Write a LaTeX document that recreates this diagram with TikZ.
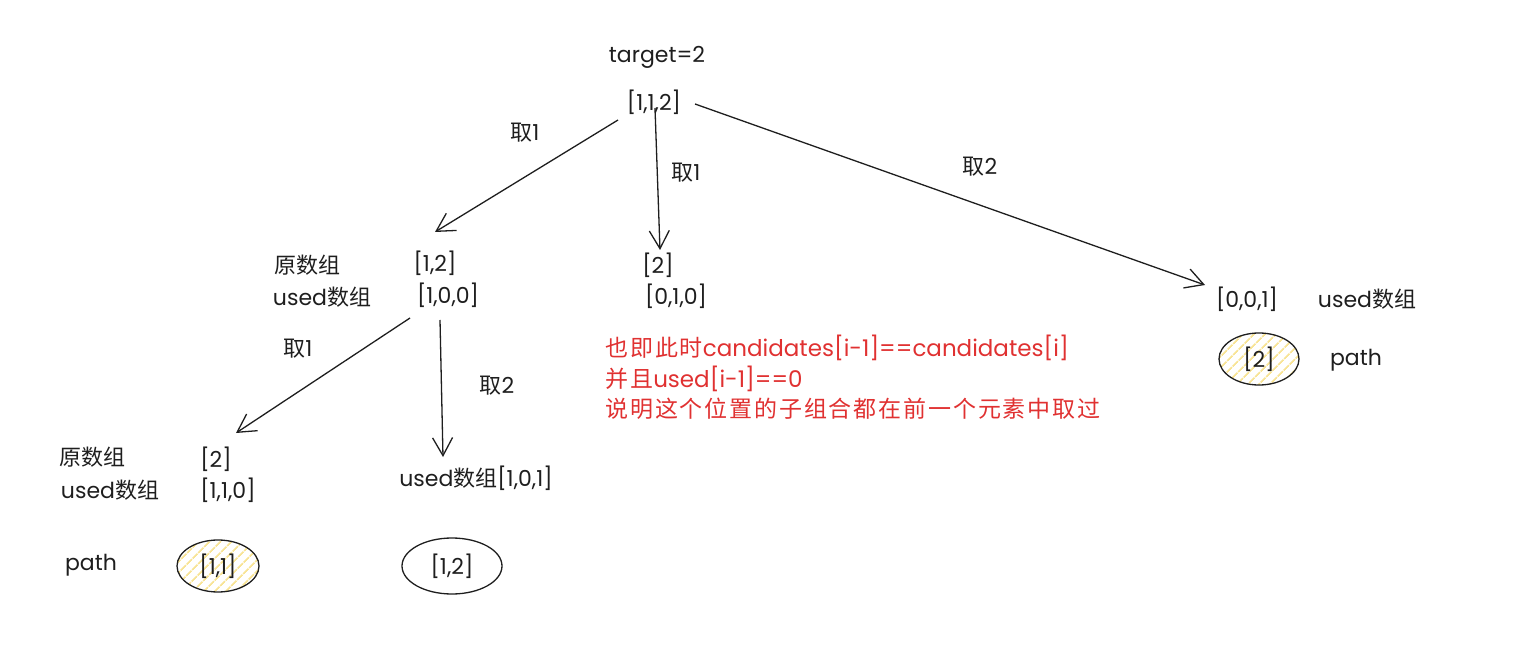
\documentclass[tikz,border=0pt]{standalone}
\usepackage{fontspec}
\setmainfont{Poppins}
\newfontfamily\cjk{Noto Sans CJK SC}
\newfontfamily\cjkwide[LetterSpace=8]{Noto Sans CJK SC}
\usetikzlibrary{arrows.meta,patterns.meta,shapes.geometric}
\definecolor{ink}{HTML}{1E1E1E}
\definecolor{redink}{HTML}{E03131}
\definecolor{hatch}{RGB}{248,228,150}
\tikzset{
  txt/.style={inner sep=0pt,text=ink,font=\fontsize{11}{13}\selectfont},
  lbl/.style={txt},
  note/.style={txt,text=redink,anchor=west,font=\fontsize{11.5}{13}\selectfont},
  arr/.style={draw=ink,line width=0.65pt,-{Straight Barb[length=9pt,width=10pt]}},
  pathell/.style={ellipse,draw=ink,line width=0.65pt,inner sep=0pt},
  hatched/.style={pattern={Lines[angle=45,distance=4pt,line width=0.9pt]},pattern color=hatch},
}
\begin{document}
\begin{tikzpicture}[x=0.5pt,y=-0.5pt]
\useasboundingbox (0,0) rectangle (1530,657);
% top
\node[txt] (target) at (657,57) {target=2};
\node[txt] (n112) at (654,102) {[1,1,2]};
% level 2
\node[txt] (orig1) at (307,265) {\cjk 原数组};
\node[txt] (used1) at (322,297) {used\cjk 数组};
\node[txt] (n12) at (435,263) {[1,2]};
\node[txt] (u100) at (448,295) {[1,0,0]};
\node[txt] (n2) at (658,265) {[2]};
\node[txt] (u010) at (676,296) {[0,1,0]};
\node[txt] (u001) at (1247,299) {[0,0,1]};
\node[txt] (used3) at (1367,299) {used\cjk 数组};
\node[pathell,hatched,minimum width=40pt,minimum height=26pt] (e2) at (1259,359) {};
\node[txt] (e2t) at (e2) {[2]};
\node[txt] (path2) at (1356,360) {path};
% red note
\node[note] (r1) at (605,348) {\cjkwide 也即此时\normalfont candidates[i-1]==candidates[i]};
\node[note] (r2) at (605,379) {\cjkwide 并且\normalfont used[i-1]==0};
\node[note] (r3) at (605,409) {\cjkwide 说明这个位置的子组合都在前一个元素中取过};
% level 3
\node[txt] (orig2) at (92,457) {\cjk 原数组};
\node[txt] (used2) at (110,490) {used\cjk 数组};
\node[txt] (n2b) at (216,459) {[2]};
\node[txt] (u110) at (228,490) {[1,1,0]};
\node[txt] (u101) at (476,478) {used\cjk 数组\normalfont[1,0,1]};
\node[txt] (path1) at (91,565) {path};
\node[pathell,hatched,minimum width=41pt,minimum height=26pt] (e11) at (218,566) {};
\node[txt] (e11t) at (e11) {[1,1]};
\node[pathell,minimum width=50pt,minimum height=28pt] (e12) at (452,566) {};
\node[txt] (e12t) at (e12) {[1,2]};
% arrows
\draw[arr] ([shift={(-36,18)}]n112.center) -- ([shift={(0,-31)}]n12.center);
\draw[arr] ([shift={(1,6)}]n112.center) -- ([shift={(2,-15)}]n2.center);
\draw[arr] ([shift={(41,2)}]n112.center) -- ([shift={(-42,-14)}]u001.center);
\draw[arr] ([shift={(-38,23)}]u100.center) -- ([shift={(20,-26)}]n2b.center);
\draw[arr] ([shift={(-8,25)}]u100.center) -- ([shift={(-33,-21)}]u101.center);
% edge labels
\node[lbl] (l1) at (525,133) {\cjk 取\normalfont 1};
\node[lbl] (l2) at (686,173) {\cjk 取\normalfont 1};
\node[lbl] (l3) at (980,167) {\cjk 取\normalfont 2};
\node[lbl] (l4) at (298,349) {\cjk 取\normalfont 1};
\node[lbl] (l5) at (497,386) {\cjk 取\normalfont 2};
\end{tikzpicture}
\end{document}
